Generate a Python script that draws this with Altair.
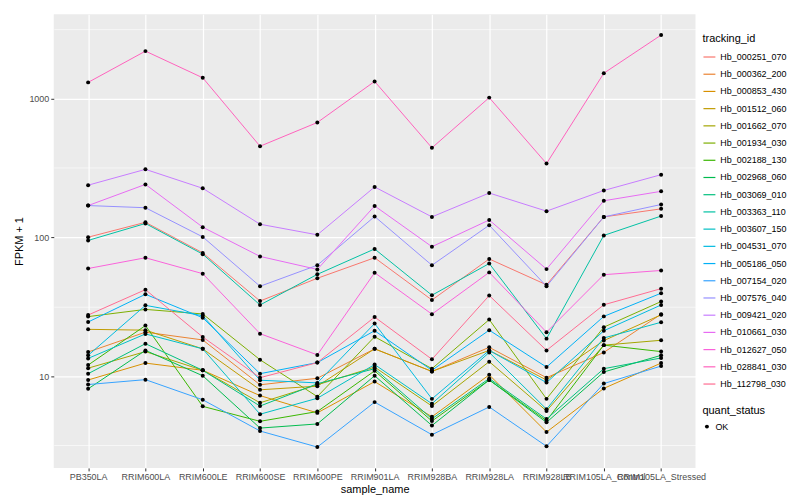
import altair as alt
import pandas as pd

samples = ["PB350LA", "RRIM600LA", "RRIM600LE", "RRIM600SE", "RRIM600PE",
           "RRIM901LA", "RRIM928BA", "RRIM928LA", "RRIM928LB",
           "RRIM105LA_Control", "RRIM105LA_Stressed"]

tracking_ids = ["Hb_000251_070", "Hb_000362_200", "Hb_000853_430", "Hb_001512_060",
                "Hb_001662_070", "Hb_001934_030", "Hb_002188_130", "Hb_002968_060",
                "Hb_003069_010", "Hb_003363_110", "Hb_003607_150", "Hb_004531_070",
                "Hb_005186_050", "Hb_007154_020", "Hb_007576_040", "Hb_009421_020",
                "Hb_010661_030", "Hb_012627_050", "Hb_028841_030", "Hb_112798_030"]

palette = ["#F8766D", "#EA8331", "#D89000", "#C09B00", "#A3A500", "#7CAE00",
           "#39B600", "#00BB4E", "#00BF7D", "#00C1A3", "#00BFC4", "#00BAE0",
           "#00B0F6", "#35A2FF", "#9590FF", "#C77CFF", "#E76BF3", "#FA62DB",
           "#FF62BC", "#FF6C91"]

# FPKM + 1 per sample (order of `samples`)
hb_000251_070 = [100, 128, 77.1, 34.7, 50.6, 71.1, 35.3, 69.7, 45.4, 140, 160]
hb_000362_200 = [14.9, 20.7, 18.2, 8.65, 9.64, 15.7, 10.8, 16.1, 9.73, 14.8, 27.9]
hb_000853_430 = [9.37, 12.4, 11.0, 7.23, 5.43, 9.12, 5.09, 10.2, 3.95, 8.15, 12.4]
hb_001512_060 = [21.7, 21.4, 15.7, 7.96, 8.46, 15.7, 10.8, 15.3, 9.37, 18.0, 27.6]
hb_001662_070 = [11.4, 15.0, 11.0, 6.42, 8.65, 11.6, 6.08, 12.7, 5.61, 16.7, 18.1]
hb_001934_030 = [26.8, 30.2, 28.0, 13.1, 7.11, 19.2, 11.3, 25.5, 6.85, 22.5, 34.4]
hb_002188_130 = [12.0, 23.1, 6.05, 4.72, 5.55, 10.9, 4.74, 9.37, 4.77, 16.7, 15.0]
hb_002968_060 = [8.09, 15.3, 10.05, 4.22, 4.52, 10.05, 4.40, 9.37, 4.64, 10.7, 14.1]
hb_003069_010 = [10.4, 17.1, 11.0, 6.08, 8.8, 11.3, 4.92, 9.6, 4.90, 11.3, 13.5]
hb_003363_110 = [94.8, 125.5, 75.5, 32.5, 54, 82.3, 38.2, 64.6, 18.6, 103, 142]
hb_003607_150 = [13.4, 20.1, 15.7, 5.31, 6.92, 12.1, 6.32, 14.8, 5.77, 18.8, 24.4]
hb_004531_070 = [14.1, 32.3, 27.2, 9.33, 8.93, 23.9, 6.85, 15.3, 8.97, 21.2, 32.5]
hb_005186_050 = [24.5, 38.8, 26.3, 10.4, 12.5, 21.2, 11.0, 21.4, 11.6, 26.9, 39.5]
hb_007154_020 = [8.69, 9.42, 6.75, 4.02, 3.08, 6.49, 3.78, 5.99, 3.12, 8.83, 11.8]
hb_007576_040 = [169, 163, 100.5, 44.3, 62.8, 141, 62.8, 122, 44.3, 140, 172]
hb_009421_020 = [237, 308, 225, 124, 104, 230, 140, 208, 154, 217, 282]
hb_010661_030 = [169, 240, 118, 72.7, 58.6, 168, 85.4, 133, 58.9, 183, 214]
hb_012627_050 = [59.5, 71.1, 54.6, 20.2, 14.2, 55.5, 27.9, 55.8, 20.7, 53.7, 57.6]
hb_028841_030 = [1303, 2188, 1406, 452, 670, 1324, 440, 1012, 339, 1517, 2855]
hb_112798_030 = [27.5, 41.9, 19.1, 9.73, 12.5, 26.6, 13.2, 38.0, 15.3, 32.6, 42.6]

series = [hb_000251_070, hb_000362_200, hb_000853_430, hb_001512_060, hb_001662_070,
          hb_001934_030, hb_002188_130, hb_002968_060, hb_003069_010, hb_003363_110,
          hb_003607_150, hb_004531_070, hb_005186_050, hb_007154_020, hb_007576_040,
          hb_009421_020, hb_010661_030, hb_012627_050, hb_028841_030, hb_112798_030]

y_breaks = [10 ** 0.5, 10, 10 ** 1.5, 100, 10 ** 2.5, 1000, 10 ** 3.5]

rows = []
for tid, vals in zip(tracking_ids, series):
    for s, v in zip(samples, vals):
        rows.append({"tracking_id": tid, "sample_name": s, "fpkm": v, "quant_status": "OK"})
df = pd.DataFrame(rows)

FONT = "Liberation Sans"
major_test = "indexof([10, 100, 1000], datum.value) >= 0"

x_enc = alt.X("sample_name:N", sort=samples,
              scale=alt.Scale(type="point", padding=0.6),
              axis=alt.Axis(title="sample_name", labelAngle=0, labelOverlap=False,
                            labelBound=False, labelFontSize=9, labelColor="#4D4D4D",
                            labelFont=FONT, titleFont=FONT, titleFontSize=11,
                            titleFontWeight="normal", titleColor="#000000",
                            titlePadding=2, labelPadding=2,
                            domain=False, tickColor="#333333", tickSize=3,
                            grid=True, gridColor="#FFFFFF", gridWidth=1.2))

y_enc = alt.Y("fpkm:Q",
              scale=alt.Scale(type="log", domain=[2.18, 4034], nice=False, zero=False),
              axis=alt.Axis(title="FPKM + 1", values=y_breaks,
                            labelExpr="indexof([10, 100, 1000], datum.value) >= 0 ? toString(datum.value) : ''",
                            labelFontSize=9, labelColor="#4D4D4D", labelFont=FONT,
                            titleFont=FONT, titleFontSize=11, titleFontWeight="normal",
                            titleColor="#000000", titlePadding=4, labelPadding=2,
                            domain=False, tickColor="#333333", tickSize=3,
                            tickOpacity={"condition": {"test": major_test, "value": 1}, "value": 0},
                            grid=True, gridColor="#FFFFFF",
                            gridWidth={"condition": {"test": major_test, "value": 1.2}, "value": 0.6}))

lines = alt.Chart(df).mark_line(strokeWidth=1).encode(
    x=x_enc,
    y=y_enc,
    color=alt.Color("tracking_id:N",
                    scale=alt.Scale(domain=tracking_ids, range=palette),
                    legend=alt.Legend(title="tracking_id", orient="none",
                                      legendX=652, legendY=19,
                                      symbolType="stroke", symbolStrokeWidth=1.2,
                                      symbolSize=144, rowPadding=5.3,
                                      labelFontSize=9, labelFont=FONT, labelColor="#000000",
                                      titleFontSize=11, titleFont=FONT,
                                      titleFontWeight="normal", titleColor="#000000",
                                      titlePadding=6)),
)

points = alt.Chart(df).mark_point(filled=True, size=16, color="#000000", opacity=1).encode(
    x=x_enc,
    y=y_enc,
    shape=alt.Shape("quant_status:N", scale=alt.Scale(range=["circle"]),
                    legend=alt.Legend(title="quant_status", orient="none",
                                      legendX=652, legendY=393,
                                      symbolSize=16, symbolFillColor="#000000",
                                      symbolStrokeColor="#000000",
                                      labelFontSize=9, labelFont=FONT, labelColor="#000000",
                                      titleFontSize=11, titleFont=FONT,
                                      titleFontWeight="normal", titleColor="#000000",
                                      titlePadding=6)),
)

chart = alt.layer(lines, points).properties(width=645, height=456).configure_view(
    fill="#EBEBEB", strokeWidth=0
)

chart.save("out.html", embed_options={"renderer": "svg", "actions": False})
